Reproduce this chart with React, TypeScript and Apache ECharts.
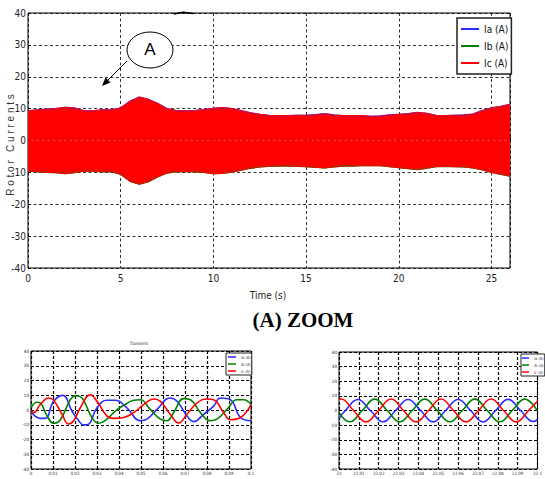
import React, { useEffect, useRef } from "react";
import * as echarts from "echarts";

// ---- main plot: envelope of the rotor currents (0 .. 26 s) ----
const envTime = [0, 0.5, 1, 1.5, 2, 2.5, 3, 3.5, 4, 4.5, 5, 5.5, 6, 6.5, 7, 7.5, 8, 8.5, 9, 9.5, 10, 10.5, 11, 11.5, 12, 12.5, 13, 13.5, 14, 14.5, 15, 15.5, 16, 16.5, 17, 17.5, 18, 18.5, 19, 19.5, 20, 20.5, 21, 21.5, 22, 22.5, 23, 23.5, 24, 24.5, 25, 25.5, 26];
const envUpper = [9.3, 9.6, 9.8, 10.0, 10.4, 10.2, 9.4, 9.3, 9.6, 9.6, 10.2, 12.3, 13.6, 12.9, 11.6, 10.0, 9.4, 9.3, 9.4, 9.7, 10.1, 10.3, 10.0, 9.4, 8.7, 8.2, 7.9, 7.8, 7.8, 7.9, 7.9, 8.1, 8.4, 8.0, 7.8, 7.8, 7.8, 7.6, 7.7, 8.0, 8.2, 8.4, 8.8, 8.5, 7.9, 7.8, 7.9, 8.0, 8.3, 9.4, 10.2, 10.7, 11.3];
const envLower = [-9.6, -9.8, -10.0, -10.1, -10.4, -10.1, -9.6, -9.6, -9.8, -9.8, -10.6, -12.8, -13.7, -12.9, -11.4, -10.2, -9.8, -9.7, -9.8, -10.0, -10.4, -10.3, -9.9, -9.3, -8.7, -8.3, -8.1, -8.0, -8.0, -8.1, -8.2, -8.4, -8.6, -8.3, -8.0, -8.0, -7.9, -7.8, -7.9, -8.2, -8.5, -8.8, -9.1, -8.7, -8.2, -8.1, -8.2, -8.3, -8.6, -9.2, -10.0, -10.6, -11.2];

// ---- zoom 1: transient (0 .. 0.1 s) ----
const transientIa: [number, number][] = [[0, -0.7], [0.002, -4.4], [0.0042, -5.7], [0.0065, -5.7], [0.0103, 5.9], [0.0145, 9.9], [0.0186, -0.7], [0.0217, -7.3], [0.0239, -10.1], [0.0258, -9.9], [0.03, 1.5], [0.0345, 6.6], [0.0383, 6.6], [0.0436, 1.5], [0.0497, -7.3], [0.0527, -6.2], [0.0573, 0.4], [0.0633, 8.1], [0.0664, 5.9], [0.0709, -4], [0.0739, -7.9], [0.0785, -2.9], [0.083, 2.6], [0.0861, 8.1], [0.0906, 7], [0.0952, -5.1], [0.1, -7.3]];
const transientIb: [number, number][] = [[0, 1.5], [0.0027, 5.3], [0.0042, 4.8], [0.0073, -4], [0.0103, -9], [0.0133, -6.6], [0.0179, 7], [0.0202, 9.7], [0.0232, 8.1], [0.0277, -5.1], [0.0308, -9], [0.0345, -6.2], [0.0383, -0.7], [0.0421, 3.1], [0.0467, 6.6], [0.0497, 7], [0.0542, 0.4], [0.0588, -6.2], [0.0618, -7.3], [0.0648, -1.8], [0.0694, 7.7], [0.0724, 7], [0.077, -1.8], [0.0815, -7.3], [0.0845, -6.2], [0.0891, 0.4], [0.0936, 7], [0.0967, 7], [0.1, 3.7]];
const transientIc: [number, number][] = [[0, -0.7], [0.0012, -1.8], [0.0042, 3.7], [0.008, 8.1], [0.0103, 6.6], [0.0141, -2.9], [0.0171, -9.5], [0.0194, -7.3], [0.0224, 1.5], [0.027, 10.3], [0.03, 5.9], [0.0345, -4], [0.0376, -5.7], [0.0421, -5.1], [0.0467, -1.8], [0.0512, 3.7], [0.0558, 7.5], [0.0588, 5.9], [0.0633, -2.9], [0.0671, -8.8], [0.0709, -2.9], [0.0755, 4.8], [0.08, 7.5], [0.083, 7], [0.0876, -1.8], [0.0906, -6.6], [0.0952, -5.1], [0.1, 3.7]];

// ---- zoom 2: steady state (22 .. 22.1 s) ----
const steadyIa: [number, number][] = [[22.0, -5.5], [22.0032, 0], [22.0095, 7.5], [22.0158, 0], [22.0222, -7.7], [22.0285, 0], [22.0348, 7.5], [22.0411, 0], [22.0474, -7.8], [22.0537, 0], [22.06, 7.5], [22.0663, 0], [22.0726, -7.8], [22.0789, 0], [22.0852, 7.6], [22.0915, 0], [22.0978, -7.5], [22.1, -6.3]];
const steadyIb: [number, number][] = [[22.0, -1.5], [22.0054, -7.7], [22.0117, 0], [22.018, 7.8], [22.0243, 0], [22.0306, -7.7], [22.0369, 0], [22.0432, 7.8], [22.0495, 0], [22.0558, -7.7], [22.0621, 0], [22.0684, 7.8], [22.0747, 0], [22.081, -7.7], [22.0873, 0], [22.0936, 7.8], [22.1, -0.2]];
const steadyIc: [number, number][] = [[22.0, 7.8], [22.001, 7.9], [22.0073, 0], [22.0136, -7.8], [22.0199, 0], [22.0262, 7.9], [22.0325, 0], [22.0388, -7.8], [22.0451, 0], [22.0514, 7.9], [22.0577, 0], [22.064, -7.8], [22.0703, 0], [22.0766, 7.9], [22.0829, 0], [22.0892, -7.8], [22.0955, 0], [22.1, 6.5]];

const seriesNames = ["Ia (A)", "Ib (A)", "Ic (A)"];
const seriesColors = ["#2a2aff", "#008000", "#ff0000"];

const NARROW = "'Liberation Sans Narrow', 'Arial Narrow', 'DejaVu Sans Condensed', 'Liberation Sans', sans-serif";

function yAxisCfg(gridIndex: number, fontSize: number, margin: number) {
  return {
    type: "value",
    gridIndex,
    min: -40,
    max: 40,
    interval: 10,
    axisLine: { show: false },
    axisTick: { show: true, inside: true, length: gridIndex === 0 ? 3 : 2, lineStyle: { color: "#000" } },
    axisLabel: { fontSize, fontFamily: NARROW, color: "#222", margin },
    splitLine: {
      show: true,
      lineStyle: { color: "#000", type: gridIndex === 0 ? [3, 2.5] : [3, 2], width: gridIndex === 0 ? 0.8 : 1.2 },
    },
  };
}

export default function App() {
  const ref = useRef<HTMLDivElement>(null);
  useEffect(() => {
    if (!ref.current) return;
    const chart = echarts.init(ref.current, null, { renderer: "svg" });
    const mainData = (arr: number[]) => envTime.map((t, i) => [t, arr[i]]);
    const smallSeries = (data: [number, number][], idx: number, axis: number) => ({
      type: "line",
      name: seriesNames[idx],
      xAxisIndex: axis,
      yAxisIndex: axis,
      data,
      smooth: 0.45,
      symbol: "none",
      color: seriesColors[idx],
      lineStyle: { color: seriesColors[idx], width: 1.6 },
    });
    const legendBase = {
      orient: "vertical",
      icon: "rect",
      backgroundColor: "#fff",
      borderColor: "#222",
      selectedMode: false,
      data: seriesNames,
    };
    chart.setOption({
      animation: false,
      backgroundColor: "#fff",
      grid: [
        { left: 28, top: 13, width: 482, height: 255, show: true, borderColor: "#000", borderWidth: 1, backgroundColor: "transparent" },
        { left: 31, top: 351, width: 220, height: 118, show: true, borderColor: "#000", borderWidth: 1, backgroundColor: "transparent" },
        { left: 339, top: 352, width: 203, height: 117, show: true, borderColor: "#000", borderWidth: 1, backgroundColor: "transparent" },
      ],
      xAxis: [
        {
          type: "value", gridIndex: 0, min: 0, max: 26, interval: 5,
          axisLine: { show: false },
          axisTick: { show: true, inside: true, length: 3, lineStyle: { color: "#000" } },
          axisLabel: { fontSize: 10, fontFamily: NARROW, color: "#222", margin: 5, formatter: (v: number) => (v % 5 === 0 ? String(v) : "") },
          splitLine: { show: true, lineStyle: { color: "#000", type: [3, 2.5], width: 0.8 } },
        },
        {
          type: "value", gridIndex: 1, min: 0, max: 0.1, interval: 0.01,
          axisLine: { show: false },
          axisTick: { show: true, inside: true, length: 2, lineStyle: { color: "#000" } },
          axisLabel: { fontSize: 4.5, fontFamily: NARROW, color: "#333", margin: 2, formatter: (v: number) => String(+v.toFixed(2)) },
          splitLine: { show: true, lineStyle: { color: "#000", type: [3, 2], width: 1.2 } },
        },
        {
          type: "value", gridIndex: 2, min: 22, max: 22.1, interval: 0.01,
          axisLine: { show: false },
          axisTick: { show: true, inside: true, length: 2, lineStyle: { color: "#000" } },
          axisLabel: { fontSize: 4.5, fontFamily: NARROW, color: "#333", margin: 2, formatter: (v: number) => String(+v.toFixed(2)) },
          splitLine: { show: true, lineStyle: { color: "#000", type: [3, 2], width: 1.2 } },
        },
      ],
      yAxis: [yAxisCfg(0, 10, 2), yAxisCfg(1, 4.5, 2), yAxisCfg(2, 4.5, 2)],
      legend: [
        {
          ...legendBase,
          left: 457, top: 18,
          borderWidth: 1.5,
          padding: [6, 3, 6, 4],
          itemWidth: 18, itemHeight: 2, itemGap: 7, itemTextGap: 4,
          textStyle: { fontSize: 10, fontFamily: NARROW, color: "#111" },
        },
        {
          ...legendBase,
          left: 226, top: 353,
          borderWidth: 1,
          padding: [2, 1, 2, 2],
          itemWidth: 8, itemHeight: 1.5, itemGap: 3, itemTextGap: 2,
          textStyle: { fontSize: 4, fontFamily: NARROW, color: "#333" },
        },
        {
          ...legendBase,
          left: 521, top: 354,
          borderWidth: 1,
          padding: [2, 1, 2, 1],
          itemWidth: 7, itemHeight: 1.5, itemGap: 3, itemTextGap: 1.5,
          textStyle: { fontSize: 4, fontFamily: NARROW, color: "#333" },
        },
      ],
      series: [
        { type: "line", name: seriesNames[0], xAxisIndex: 0, yAxisIndex: 0, data: mainData(envUpper), symbol: "none", color: seriesColors[0], lineStyle: { color: seriesColors[0], width: 1.3 } },
        { type: "line", name: seriesNames[1], xAxisIndex: 0, yAxisIndex: 0, data: mainData(envLower), symbol: "none", color: seriesColors[1], lineStyle: { color: seriesColors[1], width: 1.3 } },
        { type: "line", name: seriesNames[2], xAxisIndex: 0, yAxisIndex: 0, data: mainData(envUpper), symbol: "none", color: seriesColors[2], lineStyle: { color: seriesColors[2], width: 1.1 }, areaStyle: { color: seriesColors[2], opacity: 1 } },
        { type: "line", name: seriesNames[2], xAxisIndex: 0, yAxisIndex: 0, data: mainData(envLower), symbol: "none", color: seriesColors[2], lineStyle: { color: seriesColors[2], width: 1.1 }, areaStyle: { color: seriesColors[2], opacity: 1 } },
        smallSeries(transientIa, 0, 1),
        smallSeries(transientIb, 1, 1),
        smallSeries(transientIc, 2, 1),
        smallSeries(steadyIa, 0, 2),
        smallSeries(steadyIb, 1, 2),
        smallSeries(steadyIc, 2, 2),
      ],
      graphic: [
        { type: "ellipse", shape: { cx: 150, cy: 50, rx: 23, ry: 18 }, style: { fill: "#fff", stroke: "#000", lineWidth: 1 }, z: 100 },
        { type: "text", x: 150, y: 49, style: { text: "A", fontSize: 17, fontFamily: "'Liberation Sans', Arial, sans-serif", fill: "#000", align: "center", verticalAlign: "middle" }, z: 101 },
        { type: "line", shape: { x1: 127, y1: 61, x2: 106, y2: 82 }, style: { stroke: "#000", lineWidth: 1 }, z: 100 },
        { type: "polygon", shape: { points: [[102, 86], [110.5, 82.5], [105.5, 77.5]] }, style: { fill: "#000" }, z: 100 },
        { type: "polyline", shape: { points: [[174, 14], [183, 12.3], [193, 13.5]] }, style: { stroke: "#000", lineWidth: 1.5, fill: null }, z: 100 },
        { type: "text", x: 10, y: 145, rotation: Math.PI / 2, style: { text: "R o t o r   C u r r e n t s", fontSize: 10, fontFamily: "'Liberation Sans', Arial, sans-serif", fill: "#333", align: "center", verticalAlign: "middle" } },
        { type: "text", x: 268, y: 295.5, style: { text: "Time (s)", fontSize: 10, fontFamily: NARROW, fill: "#222", align: "center", verticalAlign: "middle" } },
        { type: "text", x: 303, y: 320, style: { text: "(A) ZOOM", fontSize: 21, fontWeight: "bold", fontFamily: "'Liberation Serif', 'Times New Roman', serif", fill: "#000", align: "center", verticalAlign: "middle" } },
        { type: "text", x: 139, y: 343.5, style: { text: "Transient", fontSize: 4.5, fontFamily: NARROW, fill: "#333", align: "center", verticalAlign: "middle" } },
      ],
    });
    return () => chart.dispose();
  }, []);
  return <div ref={ref} style={{ position: "absolute", left: 0, top: 0, width: 545, height: 479 }} />;
}
